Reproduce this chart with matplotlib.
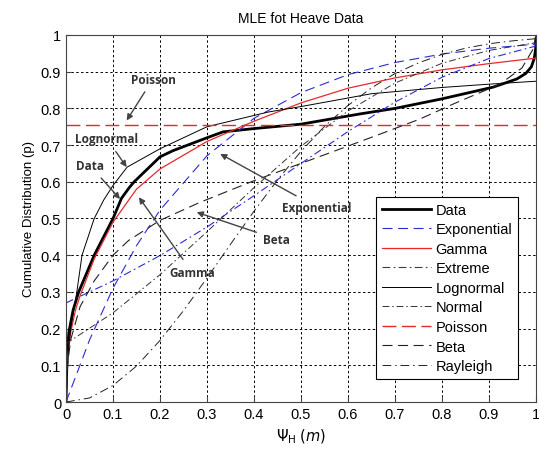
import matplotlib.pyplot as plt
import numpy as np

plt.rcParams['font.family'] = ['Liberation Sans', 'DejaVu Sans']

# empirical CDF of the data
data_x = [0, 0.002, 0.006, 0.015, 0.027, 0.06, 0.1, 0.118, 0.135, 0.145, 0.2, 0.228,
          0.3, 0.334, 0.4, 0.5, 0.626, 0.7, 0.8, 0.909, 0.959, 0.978, 0.99, 0.996, 0.999, 1.0]
data_p = [0, 0.12, 0.19, 0.25, 0.3, 0.4, 0.5, 0.555, 0.585, 0.6, 0.668, 0.685,
          0.72, 0.736, 0.745, 0.757, 0.785, 0.80, 0.826, 0.858, 0.88, 0.895, 0.913, 0.935, 0.96, 0.99]

grid_x = [0, 0.1, 0.2, 0.3, 0.4, 0.5, 0.6, 0.7, 0.8, 0.9, 1.0]

expo_x = [0, 0.05, 0.1, 0.15, 0.2, 0.3, 0.4, 0.5, 0.6, 0.7, 0.8, 0.9, 1.0]
expo_p = [0, 0.169, 0.310, 0.426, 0.523, 0.671, 0.773, 0.843, 0.892, 0.925, 0.948, 0.964, 0.975]

gamma_x = [0, 0.003, 0.01, 0.02, 0.03, 0.06, 0.1, 0.15, 0.2, 0.3, 0.4, 0.5, 0.6, 0.7, 0.8, 0.9, 1.0]
gamma_p = [0, 0.12, 0.19, 0.25, 0.29, 0.39, 0.49, 0.58, 0.635, 0.71, 0.765, 0.815, 0.855, 0.883, 0.905, 0.922, 0.937]

extreme_p = [0.270, 0.330, 0.399, 0.477, 0.562, 0.650, 0.737, 0.817, 0.885, 0.936, 0.970]

logn_x = [0, 0.005, 0.01, 0.023, 0.034, 0.06, 0.08, 0.1, 0.13, 0.2, 0.3, 0.43, 0.5, 0.65, 0.8, 0.9, 1.0]
logn_p = [0, 0.14, 0.2, 0.3, 0.4, 0.5, 0.55, 0.59, 0.64, 0.69, 0.75, 0.79, 0.805, 0.84, 0.857, 0.866, 0.874]

normal_p = [0.159, 0.243, 0.347, 0.464, 0.584, 0.697, 0.793, 0.869, 0.923, 0.958, 0.979]

poisson_x = [0, 1.0]
poisson_p = [0.755, 0.755]

beta_x = [0, 0.003, 0.01, 0.03, 0.06, 0.1, 0.133, 0.2, 0.285, 0.4, 0.555, 0.66, 0.753, 0.824, 0.923, 0.97, 0.994, 1.0]
beta_p = [0, 0.1, 0.17, 0.26, 0.33, 0.4, 0.44, 0.495, 0.544, 0.603, 0.676, 0.726, 0.771, 0.812, 0.866, 0.91, 0.962, 1.0]

rayl_x = [0, 0.05, 0.1, 0.15, 0.2, 0.25, 0.3, 0.35, 0.4, 0.45, 0.5, 0.55, 0.6, 0.65, 0.7,
          0.75, 0.8, 0.85, 0.9, 0.95, 1.0]
rayl_p = [0, 0.011, 0.045, 0.098, 0.168, 0.249, 0.338, 0.430, 0.520, 0.605, 0.683, 0.751,
          0.808, 0.856, 0.895, 0.924, 0.947, 0.964, 0.976, 0.984, 0.990]

fig = plt.figure(figsize=(5.39, 4.52), dpi=100)
ax = fig.add_axes([0.1225, 0.1084, 0.872, 0.812])

blue = '#2b2bd6'
red = '#e8282a'
ax.plot(data_x, data_p, color='black', lw=2, label='Data')
ax.plot(expo_x, expo_p, color=blue, lw=0.8, dashes=(9, 5), label='Exponential')
ax.plot(gamma_x, gamma_p, color=red, lw=0.9, label='Gamma')
ax.plot(grid_x, extreme_p, color=blue, lw=0.8, dashes=(7, 3, 1.5, 3), label='Extreme')
ax.plot(logn_x, logn_p, color='black', lw=0.7, label='Lognormal')
ax.plot(grid_x, normal_p, color='#333333', lw=0.7, dashes=(7, 3, 1.5, 3), label='Normal')
ax.plot(poisson_x, poisson_p, color=red, lw=1.0, dashes=(10, 4), label='Poisson')
ax.plot(beta_x, beta_p, color='#222222', lw=0.8, dashes=(9, 5), label='Beta')
ax.plot(rayl_x, rayl_p, color='#222222', lw=0.7, dashes=(9, 4, 1.5, 4), label='Rayleigh')

ax.set_xlim(0, 1)
ax.set_ylim(0, 1)
ax.set_xticks(np.arange(0, 1.01, 0.1))
ax.set_yticks(np.arange(0, 1.01, 0.1))
ax.set_xticklabels(['0', '0.1', '0.2', '0.3', '0.4', '0.5', '0.6', '0.7', '0.8', '0.9', '1'])
ax.set_yticklabels(['0', '0.1', '0.2', '0.3', '0.4', '0.5', '0.6', '0.7', '0.8', '0.9', '1'])
ax.tick_params(direction='in', labelsize=10.5, color='#444444')
ax.grid(True, color='black', linestyle=(0, (2.5, 2.5)), lw=0.7)
for s in ax.spines.values():
    s.set_color('#444444')

ax.set_title('MLE fot Heave Data', fontsize=10, pad=9)
ax.set_xlabel(r'$\Psi_{\mathrm{H}}$ $\mathit{(m)}$', fontsize=10.5)
ax.set_ylabel('Cumulative Distribution (p)', fontsize=9.5)

leg = ax.legend(loc='lower right', bbox_to_anchor=(0.962, 0.063), borderaxespad=0,
                fontsize=10.5, handlelength=3.4, fancybox=False, framealpha=1,
                edgecolor='black', labelspacing=0.38, borderpad=0.4, handletextpad=0.3)
leg.get_frame().set_linewidth(0.8)

# arrow labels
notes = [('Poisson', (0.185, 0.880), (0.129, 0.767)),
         ('Lognormal', (0.087, 0.717), (0.129, 0.640)),
         ('Data', (0.051, 0.644), (0.115, 0.553)),
         ('Gamma', (0.268, 0.354), (0.155, 0.558)),
         ('Exponential', (0.533, 0.531), (0.328, 0.676)),
         ('Beta', (0.448, 0.444), (0.278, 0.517))]
for txt, xyt, xy in notes:
    ax.annotate(txt, xy=xy, xytext=xyt, fontsize=8.5, fontweight='bold', color='#333333',
                family=['Open Sans', 'DejaVu Sans'], ha='center', va='center',
                arrowprops=dict(arrowstyle='-|>', color='#444444', lw=1, shrinkA=3, shrinkB=0,
                                mutation_scale=9))

plt.savefig('out.png', dpi=100)
